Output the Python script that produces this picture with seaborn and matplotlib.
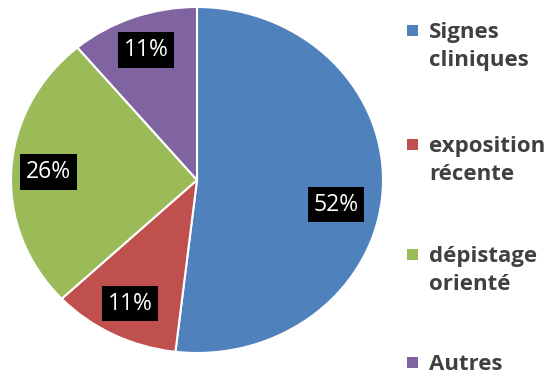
import matplotlib
matplotlib.use("Agg")
import matplotlib.pyplot as plt
from matplotlib.patches import Rectangle
import numpy as np
import seaborn as sns

categories = ["Signes cliniques", "exposition récente", "dépistage orienté", "Autres"]
legend_labels = ["Signes\ncliniques", "exposition\nrécente", "dépistage\norienté", "Autres"]
counts = [14, 3, 7, 3]
colors = sns.color_palette(["#4F81BD", "#C0504D", "#9BBB59", "#8064A2"])

# label placement inside each wedge (fraction of sweep from its start, radius)
label_sweep_frac = [0.54, 0.5, 0.5, 0.5]
label_radius = [0.76, 0.8, 0.8, 0.8]

sns.set_theme(style="white")
plt.rcParams["font.family"] = ["Open Sans", "DejaVu Sans"]

W, H = 547, 377
fig = plt.figure(figsize=(W / 100, H / 100), dpi=100)
fig.patch.set_facecolor("white")

ax = fig.add_axes([11 / W, 24 / H, 372 / W, 346 / H])
wedges, texts, autotexts = ax.pie(
    counts,
    colors=colors,
    startangle=90,
    counterclock=False,
    autopct=lambda p: f"{p:.0f}%",
    pctdistance=0.79,
    wedgeprops=dict(edgecolor="white", linewidth=1.5),
    textprops=dict(color="white", fontsize=16.5),
)
ax.set_aspect("auto")
ax.set_xlim(-1, 1)
ax.set_ylim(-1, 1)
for w, t, f, r in zip(wedges, autotexts, label_sweep_frac, label_radius):
    ang = np.deg2rad(w.theta2 - f * (w.theta2 - w.theta1))
    t.set_position((r * np.cos(ang), r * np.sin(ang)))
    t.set_bbox(dict(boxstyle="square,pad=0.25", facecolor="black", edgecolor="none"))

# legend (manual, square aligned with first line)
legend_baseline = [38, 152, 262, 370]
line_step = 28
for lab, col, yb in zip(legend_labels, colors, legend_baseline):
    fig.add_artist(Rectangle((407 / W, 1 - (yb - 2) / H), 11 / W, 11 / H,
                             transform=fig.transFigure, facecolor=col, edgecolor="none"))
    for j, line in enumerate(lab.split("\n")):
        fig.text(429 / W, 1 - (yb + j * line_step) / H, line, ha="left", va="baseline",
                 fontsize=16, fontweight="bold", color="#404040")

fig.savefig("out.png", dpi=100)
